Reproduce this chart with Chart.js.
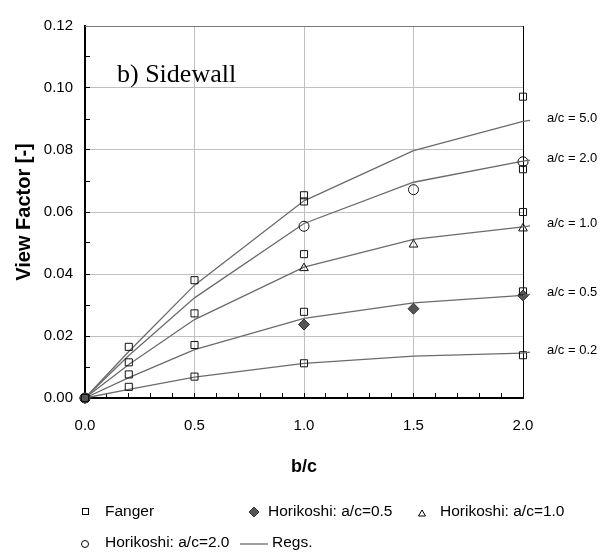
<!DOCTYPE html>
<html>
<head>
<meta charset="utf-8">
<script src="https://cdn.jsdelivr.net/npm/chart.js@4/dist/chart.umd.min.js"></script>
<style>
  body { margin: 0; background: #fff; }
  canvas { display: block; }
</style>
</head>
<body>
<canvas id="chart" width="609" height="553"></canvas>
<script>
// b/c positions of the regression curves
const regX = [0, 0.2, 0.5, 1.0, 1.5, 2.0];
const reg50 = [0, 0.0150, 0.0364, 0.0636, 0.0798, 0.0892];
const reg20 = [0, 0.0137, 0.0323, 0.0563, 0.0696, 0.0764];
const reg10 = [0, 0.0108, 0.0253, 0.0422, 0.0512, 0.0552];
const reg05 = [0, 0.0066, 0.0156, 0.0257, 0.0307, 0.0331];
const reg02 = [0, 0.0028, 0.0067, 0.0112, 0.0135, 0.0145];
const regLabels = ['a/c = 5.0', 'a/c = 2.0', 'a/c = 1.0', 'a/c = 0.5', 'a/c = 0.2'];

// Fanger points
const fangerX = [0, 0, 0, 0, 0.2, 0.2, 0.2, 0.2, 0.5, 0.5, 0.5, 0.5, 1.0, 1.0, 1.0, 1.0, 1.0, 2.0, 2.0, 2.0, 2.0, 2.0];
const fangerY = [0, 0, 0, 0, 0.0165, 0.0115, 0.0076, 0.0036, 0.0380, 0.0273, 0.0171, 0.0069,
                 0.0654, 0.0634, 0.0464, 0.0278, 0.0112, 0.0972, 0.0738, 0.0600, 0.0344, 0.0138];

// Horikoshi points
const hkX = [0, 1.0, 1.5, 2.0];
const hk05 = [0, 0.0237, 0.0288, 0.0331];
const hk10 = [0, 0.0419, 0.0495, 0.0547];
const hk20 = [0, 0.0554, 0.0672, 0.0762];

const yTicks = { min: 0, max: 0.12, step: 0.01 };
const xTicks = { min: 0, max: 2.0, step: 0.1 };

const pts = (xs, ys) => xs.map((x, i) => ({ x: x, y: ys[i] }));
const isMajor = (v, step) => Math.abs(v / step - Math.round(v / step)) < 1e-6;

const GRID = '#c0c0c0';
const LINE = '#6b6b6b';
const SANS = 'Arial, "Liberation Sans", sans-serif';

function regSet(ys) {
    return {
        data: pts(regX, ys), showLine: true, borderColor: LINE, borderWidth: 1.3,
        pointRadius: 0, fill: false, clip: false
    };
}

// bordes, textos de la derecha y leyenda
const extras = {
    id: 'extras',
    beforeDatasetsDraw(chart) {
        const { ctx, chartArea: a } = chart;
        ctx.save();
        ctx.lineWidth = 1;
        ctx.strokeStyle = '#777';
        ctx.beginPath(); ctx.moveTo(a.left, a.top + 0.5); ctx.lineTo(a.right, a.top + 0.5); ctx.stroke();
        ctx.strokeStyle = '#000';
        ctx.beginPath(); ctx.moveTo(a.right + 0.5, a.top); ctx.lineTo(a.right + 0.5, a.bottom); ctx.stroke();
        ctx.restore();
    },
    afterDraw(chart) {
        const { ctx, chartArea: a, scales } = chart;
        const ys = scales.y;
        ctx.save();
        // etiqueta del panel
        ctx.fillStyle = '#000';
        ctx.font = '26px "Times New Roman", "Liberation Serif", serif';
        ctx.textBaseline = 'alphabetic';
        ctx.fillText('b) Sidewall', a.left + 32, a.top + 56);

        // etiquetas de cada curva
        [reg50, reg20, reg10, reg05, reg02].forEach((r, i) => {
            const last = r[r.length - 1];
            const py = ys.getPixelForValue(last);
            ctx.strokeStyle = LINE;
            ctx.lineWidth = 1.3;
            ctx.beginPath(); ctx.moveTo(a.right, py); ctx.lineTo(a.right + 7, py - 1); ctx.stroke();
            ctx.fillStyle = '#000';
            ctx.font = '13px ' + SANS;
            ctx.textBaseline = 'middle';
            ctx.fillText(regLabels[i], a.right + 24, py - 3);
        });

        // leyenda
        ctx.font = '15.5px ' + SANS;
        ctx.textBaseline = 'middle';
        const row1 = 512, row2 = 543;
        const txt = (s, x, y) => { ctx.fillStyle = '#000'; ctx.fillText(s, x, y); };
        ctx.lineWidth = 1;
        ctx.strokeStyle = '#000';
        // Fanger
        ctx.strokeRect(82.5, row1 - 3.5, 6, 6);
        txt('Fanger', 105, row1);
        // diamond
        ctx.fillStyle = '#555';
        ctx.strokeStyle = '#333';
        ctx.beginPath();
        ctx.moveTo(254, row1 - 5); ctx.lineTo(259, row1); ctx.lineTo(254, row1 + 5); ctx.lineTo(249, row1);
        ctx.closePath(); ctx.fill(); ctx.stroke();
        txt('Horikoshi: a/c=0.5', 268, row1);
        // triangle
        ctx.strokeStyle = '#000';
        ctx.beginPath();
        ctx.moveTo(422, row1 - 2); ctx.lineTo(425.5, row1 + 4); ctx.lineTo(418.5, row1 + 4);
        ctx.closePath(); ctx.stroke();
        txt('Horikoshi: a/c=1.0', 440, row1);
        // circle
        ctx.beginPath(); ctx.arc(85, row2 + 1, 3.5, 0, Math.PI * 2); ctx.stroke();
        txt('Horikoshi: a/c=2.0', 105, row2);
        // regs
        ctx.strokeStyle = LINE; ctx.lineWidth = 1.3;
        ctx.beginPath(); ctx.moveTo(240, row2 + 1); ctx.lineTo(268, row2 + 1); ctx.stroke();
        txt('Regs.', 272, row2);
        ctx.restore();
    }
};

new Chart(document.getElementById('chart'), {
    type: 'scatter',
    data: {
        datasets: [
            { data: pts(fangerX, fangerY), pointStyle: 'rect', pointRadius: 5, borderWidth: 1,
              borderColor: '#111', backgroundColor: 'rgba(255,255,255,0)', clip: false },
            { data: pts(hkX, hk05), pointStyle: 'rectRot', pointRadius: 5.5, borderWidth: 1,
              borderColor: '#333', backgroundColor: '#555', clip: false },
            { data: pts(hkX, hk10), pointStyle: 'triangle', pointRadius: 5, borderWidth: 1,
              borderColor: '#111', backgroundColor: 'rgba(255,255,255,0)', clip: false },
            { data: pts(hkX, hk20), pointStyle: 'circle', pointRadius: 5, borderWidth: 1,
              borderColor: '#111', backgroundColor: 'rgba(255,255,255,0)', clip: false },
            regSet(reg50), regSet(reg20), regSet(reg10), regSet(reg05), regSet(reg02)
        ]
    },
    options: {
        responsive: false,
        animation: false,
        events: [],
        layout: { padding: { left: 0, right: 86, top: 15, bottom: 70 } },
        plugins: { legend: { display: false }, tooltip: { enabled: false } },
        scales: {
            x: {
                type: 'linear', min: xTicks.min, max: xTicks.max,
                afterFit(s) { s.height = 85; },
                border: { color: '#000', width: 2 },
                grid: {
                    color: c => (c.tick && isMajor(c.tick.value, 0.5)) ? GRID : 'rgba(0,0,0,0)',
                    tickColor: '#000', tickLength: -5, lineWidth: 1
                },
                ticks: {
                    stepSize: xTicks.step, autoSkip: false, maxRotation: 0, padding: 24,
                    color: '#000', font: { family: SANS, size: 15 },
                    callback: v => isMajor(v, 0.5) ? v.toFixed(1) : ''
                },
                title: { display: true, text: 'b/c', color: '#000',
                         font: { family: SANS, size: 18, weight: 'bold' }, padding: { top: 0, bottom: 5 } }
            },
            y: {
                type: 'linear', min: yTicks.min, max: yTicks.max,
                afterFit(s) { s.width = 85; },
                border: { color: '#000', width: 2 },
                grid: {
                    color: c => (c.tick && isMajor(c.tick.value, 0.02)) ? GRID : 'rgba(0,0,0,0)',
                    tickColor: '#000', tickLength: -5, lineWidth: 1
                },
                ticks: {
                    stepSize: yTicks.step, autoSkip: false, padding: 17,
                    color: '#000', font: { family: SANS, size: 15 },
                    callback: v => isMajor(v, 0.02) ? v.toFixed(2) : ''
                },
                title: { display: true, text: 'View Factor [-]', color: '#000',
                         font: { family: SANS, size: 20, weight: 'bold' }, padding: { top: 12, bottom: 0 } }
            }
        }
    },
    plugins: [extras]
});
</script>
</body>
</html>
